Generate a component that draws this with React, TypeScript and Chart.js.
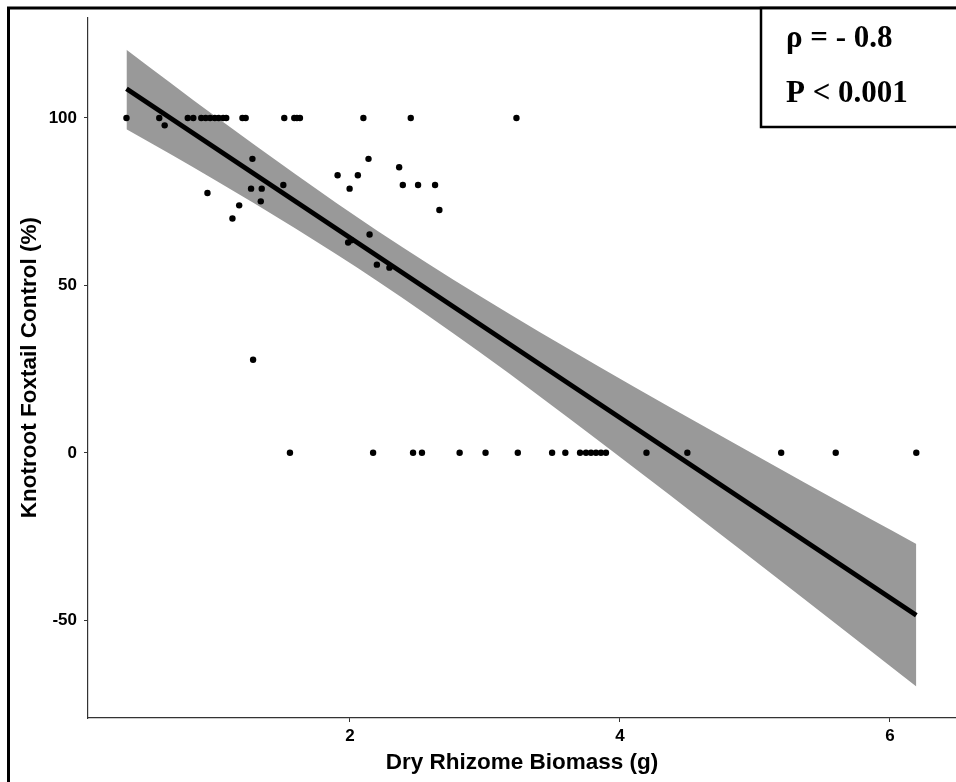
import React, { useEffect, useRef } from "react";
import { Chart, registerables } from "chart.js";

Chart.register(...registerables);

// Observations: dry rhizome biomass (g) vs knotroot foxtail control (%)
const biomass = [
  0.345, 0.588, 0.799, 0.84, 0.899, 0.932, 0.965, 0.999, 1.028, 1.061, 1.084, 1.204, 1.228,
  1.514, 1.588, 1.608, 1.63, 2.1, 2.451, 3.234,
  0.628, 0.945, 1.18, 1.13, 1.278, 1.268, 1.347, 1.34, 1.507, 1.283, 1.909, 1.998, 2.059,
  2.138, 2.365, 2.392, 2.505, 2.631, 2.663, 2.146, 1.987, 2.01, 2.2, 2.293,
  1.556, 2.172, 2.468, 2.534, 2.813, 3.005, 3.244, 3.498, 3.596, 3.705, 3.749, 3.786, 3.823,
  3.86, 3.897, 4.197, 4.5, 5.195, 5.599, 6.196,
];
const control = [
  100, 100, 100, 100, 100, 100, 100, 100, 100, 100, 100, 100, 100,
  100, 100, 100, 100, 100, 100, 100,
  97.8, 77.6, 73.9, 70.0, 87.8, 78.9, 78.9, 75.1, 80.0, 27.8, 82.9, 78.9, 82.9,
  87.8, 85.3, 80.0, 80.0, 80.0, 72.5, 65.2, 62.8, 63.5, 56.2, 55.3,
  0, 0, 0, 0, 0, 0, 0, 0, 0, 0, 0, 0, 0,
  0, 0, 0, 0, 0, 0, 0,
];

// Fitted line and confidence band
const fitBiomass = [0.345, 6.196];
const fitControl = [108.7, -48.5];
const bandBiomass = [0.345, 1.0, 1.6, 2.2, 2.96, 3.85, 4.88, 5.84, 6.196];
const bandUpper = [120.4, 100.6, 83.1, 66.4, 46.9, 25.6, 2.1, -19.4, -27.2];
const bandLower = [96.6, 81.5, 66.9, 51.4, 30.1, 3.4, -28.5, -58.6, -69.8];

const xTicks = [2, 4, 6];
const yTicks = [-50, 0, 50, 100];
const statLines = ["ρ = - 0.8", "P < 0.001"];
const xTitle = "Dry Rhizome Biomass (g)";
const yTitle = "Knotroot Foxtail Control (%)";

const sans = "'Liberation Sans', Arial, sans-serif";

const framePlugin = {
  id: "frameAndStats",
  afterDraw(chart: any) {
    const ctx = chart.ctx;
    ctx.save();
    ctx.strokeStyle = "#000";
    ctx.lineWidth = 3;
    ctx.strokeRect(8.5, 8, 1400, 1400);
    ctx.fillStyle = "#fff";
    ctx.fillRect(761, 9.5, 400, 117);
    ctx.lineWidth = 2.5;
    ctx.strokeRect(761, 8, 400, 119);
    ctx.fillStyle = "#000";
    ctx.font = "bold 31px 'Liberation Serif', 'Times New Roman', serif";
    ctx.textBaseline = "alphabetic";
    ctx.textAlign = "left";
    ctx.fillText(statLines[0], 786, 47);
    ctx.fillText(statLines[1], 786, 102);
    ctx.restore();
  },
};

export default function App() {
  const ref = useRef<HTMLCanvasElement | null>(null);

  useEffect(() => {
    if (!ref.current) return;
    const pts = biomass.map((x, i) => ({ x, y: control[i] }));
    const fit = fitBiomass.map((x, i) => ({ x, y: fitControl[i] }));
    const up = bandBiomass.map((x, i) => ({ x, y: bandUpper[i] }));
    const lo = bandBiomass.map((x, i) => ({ x, y: bandLower[i] }));

    const tickFont = { family: sans, size: 17, weight: "bold" as const };
    const titleFont = { family: sans, size: 22.5, weight: "bold" as const };

    const chart = new Chart(ref.current, {
      type: "line",
      data: {
        datasets: [
          {
            data: pts,
            showLine: false,
            pointRadius: 3.2,
            pointHoverRadius: 0,
            pointBackgroundColor: "#000",
            pointBorderWidth: 0,
            order: 0,
          },
          {
            data: fit,
            borderColor: "#000",
            borderWidth: 4.8,
            pointRadius: 0,
            pointHoverRadius: 0,
            fill: false,
            order: 1,
          },
          {
            data: up,
            borderWidth: 0,
            borderColor: "rgba(0,0,0,0)",
            pointRadius: 0,
            pointHoverRadius: 0,
            cubicInterpolationMode: "monotone",
            fill: "+1",
            backgroundColor: "#999999",
            order: 2,
          },
          {
            data: lo,
            borderWidth: 0,
            borderColor: "rgba(0,0,0,0)",
            pointRadius: 0,
            pointHoverRadius: 0,
            cubicInterpolationMode: "monotone",
            fill: false,
            order: 3,
          },
        ],
      },
      options: {
        animation: false,
        responsive: false,
        devicePixelRatio: 1,
        layout: { autoPadding: false, padding: { top: 16, left: 0, right: 0, bottom: 0 } },
        plugins: {
          legend: { display: false },
          tooltip: { enabled: false },
        },
        scales: {
          x: {
            type: "linear",
            min: 0.06,
            max: 6.49,
            afterBuildTicks: (s: any) => {
              s.ticks = xTicks.map((v) => ({ value: v }));
            },
            afterFit: (s: any) => {
              s.height = 64;
            },
            grid: { drawOnChartArea: false, drawTicks: true, tickLength: 4, color: "#333", lineWidth: 1 },
            border: { display: true, color: "#333", width: 1.2 },
            ticks: { color: "#000", font: tickFont, padding: 4, maxRotation: 0, autoSkip: false },
            title: { display: true, text: xTitle, color: "#000", font: titleFont, padding: { top: 0, bottom: 6 } },
          },
          y: {
            type: "linear",
            min: -79.2,
            max: 130.1,
            afterBuildTicks: (s: any) => {
              s.ticks = yTicks.map((v) => ({ value: v }));
            },
            afterFit: (s: any) => {
              s.width = 88;
            },
            grid: { drawOnChartArea: false, drawTicks: true, tickLength: 4, color: "#333", lineWidth: 1 },
            border: { display: true, color: "#333", width: 1.2 },
            ticks: { color: "#000", font: tickFont, padding: 7, autoSkip: false },
            title: { display: true, text: yTitle, color: "#000", font: titleFont, padding: { top: 16, bottom: 0 } },
          },
        },
      },
      plugins: [framePlugin],
    });
    return () => chart.destroy();
  }, []);

  return (
    <canvas
      ref={ref}
      width={956}
      height={782}
      style={{ position: "fixed", left: 0, top: 0, width: 956, height: 782 }}
    />
  );
}
